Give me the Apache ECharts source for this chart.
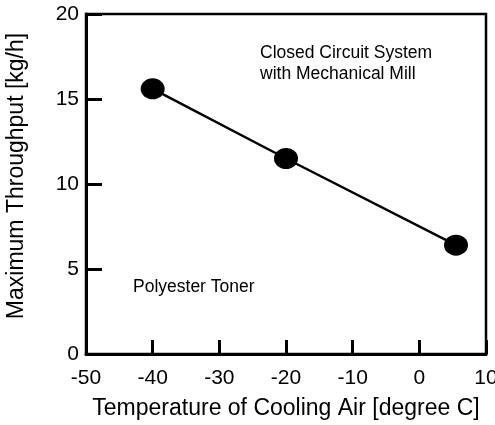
<!DOCTYPE html>
<html>
<head>
<meta charset="utf-8">
<script src="https://cdn.jsdelivr.net/npm/echarts@6/dist/echarts.min.js"></script>
<style>
  html, body { margin: 0; padding: 0; background: #fff; }
  #chart { width: 495px; height: 425px; }
</style>
</head>
<body>
<div id="chart"></div>
<script>
// cooling air temperature [degree C] vs max throughput [kg/h]
const temps = [-40, -20, 5.5]
const throughput = [15.6, 11.5, 6.4]
const xTicks = [-50, -40, -30, -20, -10, 0, 10]
const yTicks = [0, 5, 10, 15, 20]

const FONT = '"Liberation Sans", Arial, sans-serif'
const INK = '#000'

const chart = echarts.init(document.getElementById('chart'))

const axisLine = { show: true, onZero: false, lineStyle: { color: INK, width: 3 } }

chart.setOption({
  animation: false,
  grid: {
    left: 86, right: 9, top: 14, bottom: 71,
    outerBoundsMode: 'none', containLabel: false,
    show: true, borderColor: INK, borderWidth: 2.5,
  },
  xAxis: {
    type: 'value', min: xTicks[0], max: xTicks[xTicks.length - 1], interval: 10,
    name: 'Temperature of Cooling Air [degree C]',
    nameLocation: 'middle', nameGap: 43,
    nameTextStyle: { color: INK, fontSize: 23, fontFamily: FONT },
    axisLine,
    axisTick: { show: true, inside: true, length: 14,
      lineStyle: { color: INK, width: 3 } },
    axisLabel: { color: INK, fontSize: 21, fontFamily: FONT, margin: 14,
      formatter: v => (v < 0 ? '-' + Math.abs(v) : String(v)) },
    splitLine: { show: false },
  },
  yAxis: {
    type: 'value', min: yTicks[0], max: yTicks[yTicks.length - 1], interval: 5,
    name: 'Maximum Throughput [kg/h]',
    nameLocation: 'middle', nameGap: 58,
    nameTextStyle: { color: INK, fontSize: 23, fontFamily: FONT,
      padding: [0, 0, 0, 16] },
    axisLine,
    axisTick: { show: true, inside: true, length: 16,
      lineStyle: { color: INK, width: 3 } },
    axisLabel: { color: INK, fontSize: 21, fontFamily: FONT, margin: 7 },
    splitLine: { show: false },
  },
  graphic: [
    { type: 'text', left: 260, top: 43,
      style: { text: 'Closed Circuit System\nwith Mechanical Mill',
        font: '17.5px ' + FONT, fill: INK, lineHeight: 21 } },
    { type: 'text', left: 133, top: 278,
      style: { text: 'Polyester Toner', font: '17.5px ' + FONT, fill: INK } },
  ],
  series: [{
    type: 'line',
    data: temps.map((t, i) => [t, throughput[i]]),
    symbol: 'circle', symbolSize: [24, 21],
    lineStyle: { color: INK, width: 2.5 },
    itemStyle: { color: INK },
  }],
})
</script>
</body>
</html>
